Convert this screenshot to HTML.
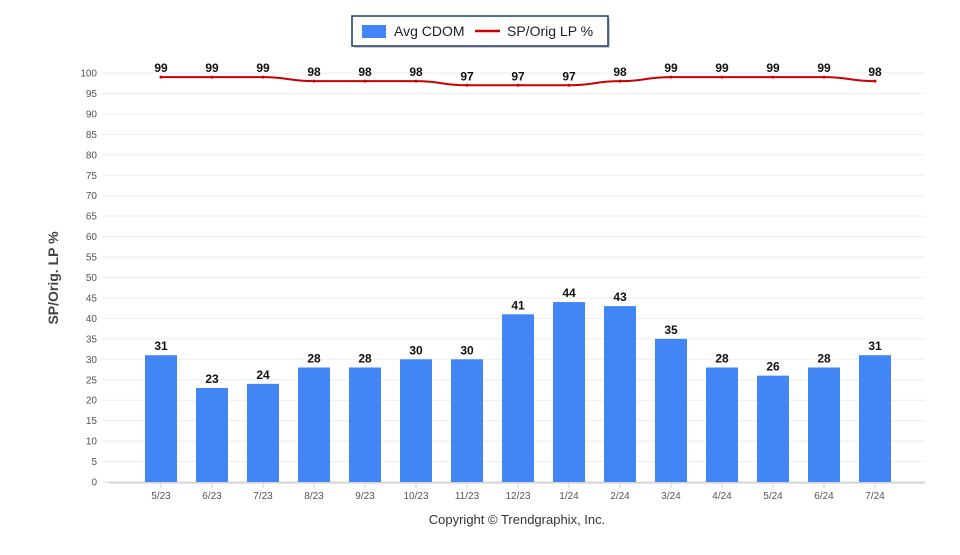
<!DOCTYPE html>
<html><head><meta charset="utf-8"><style>
body{margin:0;background:#fff;font-family:"Liberation Sans",Arial,sans-serif}
</style></head><body>
<svg width="960" height="550" xmlns="http://www.w3.org/2000/svg">
<g>
<rect x="354" y="18" width="256" height="30" fill="#999" opacity="0.5"/>
<rect x="352" y="16" width="256" height="30" fill="#fff" stroke="#1f3864" stroke-width="1.5"/>
<rect x="362" y="25" width="24" height="13" fill="#4285f4"/>
<text x="394" y="36" font-size="14" fill="#222">Avg CDOM</text>
<line x1="475" y1="31" x2="500" y2="31" stroke="#cc0000" stroke-width="2.5"/>
<text x="507" y="36" font-size="14" fill="#222">SP/Orig LP %</text>
</g>
<g id="grid"></g><g id="bars"></g><g id="line"></g>
<text transform="translate(58,278) rotate(-90)" text-anchor="middle" font-size="14" font-weight="bold" fill="#444">SP/Orig. LP %</text>
<text x="517" y="524" text-anchor="middle" font-size="13" fill="#333">Copyright © Trendgraphix, Inc.</text>
</svg>
<script>
const categories=["5/23","6/23","7/23","8/23","9/23","10/23","11/23","12/23","1/24","2/24","3/24","4/24","5/24","6/24","7/24"];
const cdom=[31,23,24,28,28,30,30,41,44,43,35,28,26,28,31];
const spPct=[99,99,99,98,98,98,97,97,97,98,99,99,99,99,98];
const yTicks=[0,5,10,15,20,25,30,35,40,45,50,55,60,65,70,75,80,85,90,95,100];
const NS="http://www.w3.org/2000/svg";
const y=v=>482-v*4.09;
const x=i=>161+51*i;
function mk(t,a,p){const e=document.createElementNS(NS,t);for(const k in a)e.setAttribute(k,a[k]);p.appendChild(e);return e;}
const g=document.getElementById('grid'),b=document.getElementById('bars'),l=document.getElementById('line');
yTicks.forEach(v=>{
 const ln=mk('line',{x1:102,x2:925,y1:y(v),y2:y(v),stroke:v===0?'#ddd':'#eee','stroke-width':1},g);
 
 
 const t=mk('text',{x:97,y:y(v)+3.5,'text-anchor':'end','font-size':10,fill:'#555'},g);
 t.textContent=v;
 
 
});
const ax=mk('line',{x1:109,x2:925,y1:483,y2:483,stroke:'#ccc','stroke-width':1},g);


categories.forEach((c,i)=>{
 const r=mk('rect',{x:x(i)-16,y:y(cdom[i]),width:32,height:482-y(cdom[i]),fill:'#4285f4'},b);
 
 
 const vt=mk('text',{x:x(i),y:y(cdom[i])-5,'text-anchor':'middle','font-size':12,'font-weight':'bold',fill:'#111'},b);
 vt.textContent=cdom[i];
 
 
 const tk=mk('line',{x1:x(i),x2:x(i),y1:483,y2:488,stroke:'#ccc'},g);
 
 
 const xt=mk('text',{x:x(i),y:499,'text-anchor':'middle','font-size':10,fill:'#555'},g);
 xt.textContent=c;
 
 
});
let d='';
spPct.forEach((v,i)=>{
 if(i===0)d+='M'+x(i)+','+y(v);
 else{const mx=(x(i-1)+x(i))/2;d+=' C'+mx+','+y(spPct[i-1])+' '+mx+','+y(v)+' '+x(i)+','+y(v);}
});
const p=mk('path',{d:d,fill:'none',stroke:'#cc0000','stroke-width':2},l);


spPct.forEach((v,i)=>{
 const c=mk('circle',{cx:x(i),cy:y(v),r:1.5,fill:'#cc0000'},l);
 
 
 const t=mk('text',{x:x(i),y:y(v)-5,'text-anchor':'middle','font-size':12,'font-weight':'bold',fill:'#111'},l);
 t.textContent=v;
 
 
});
</script>
</body></html>
